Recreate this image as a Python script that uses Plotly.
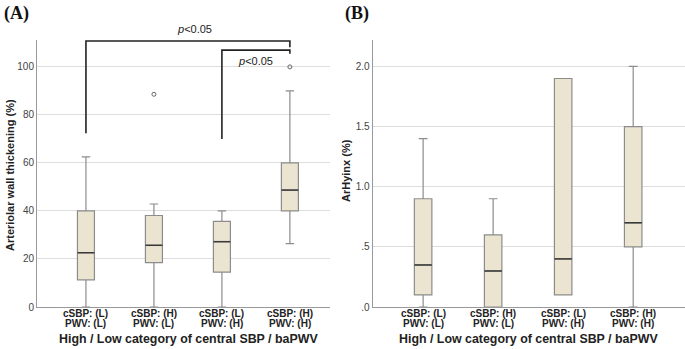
import plotly.graph_objects as go

categories = ["cSBP: (L)<br>PWV: (L)", "cSBP: (H)<br>PWV: (L)", "cSBP: (L)<br>PWV: (H)", "cSBP: (H)<br>PWV: (H)"]
xpos = [0, 1, 2, 3]

# Panel A: Arteriolar wall thickening (%)
a_low = [0, 0, 0, 26.4]
a_q1 = [11.3, 18.5, 14.5, 40]
a_med = [22.6, 25.7, 27.2, 48.7]
a_q3 = [40, 38.1, 35.7, 60]
a_high = [62.5, 42.9, 40, 90]
a_out_x = [1, 3]
a_out_y = [88.6, 100]

# Panel B: ArHyinx (%)
b_low = [0, 0, 0.1, 0]
b_q1 = [0.1, 0, 0.1, 0.5]
b_med = [0.35, 0.3, 0.4, 0.7]
b_q3 = [0.9, 0.6, 1.9, 1.5]
b_high = [1.4, 0.9, 1.9, 2.0]

a_ticks = [0, 20, 40, 60, 80, 100]
b_ticks = [0, 0.5, 1.0, 1.5, 2.0]
b_ticklabels = [".0", ".5", "1.0", "1.5", "2.0"]

FILL = "#ebe4d0"
LINE = "#8c8c8c"
MED = "#3a3a3a"
GRID = "#dddddd"
FONT = "Liberation Sans, Arial, sans-serif"
W, H = 685, 349

def px(v):
    return v / W

def py(v):
    return 1 - v / H

fig = go.Figure()

fig.add_trace(go.Box(x=xpos, q1=a_q1, median=a_med, q3=a_q3, lowerfence=a_low, upperfence=a_high,
                     fillcolor=FILL, line=dict(color=LINE, width=1.2), width=0.25, whiskerwidth=0.5,
                     boxpoints=False, xaxis="x", yaxis="y", showlegend=False, hoverinfo="skip"))
fig.add_trace(go.Scatter(x=a_out_x, y=a_out_y, mode="markers",
                         marker=dict(symbol="circle-open", size=4, color="#666666", line=dict(width=1)),
                         xaxis="x", yaxis="y", showlegend=False, hoverinfo="skip"))
fig.add_trace(go.Box(x=xpos, q1=b_q1, median=b_med, q3=b_q3, lowerfence=b_low, upperfence=b_high,
                     fillcolor=FILL, line=dict(color=LINE, width=1.2), width=0.25, whiskerwidth=0.5,
                     boxpoints=False, xaxis="x2", yaxis="y2", showlegend=False, hoverinfo="skip"))

shapes = []
hw = 0.125
for xi, m in zip(xpos, a_med):
    shapes.append(dict(type="line", xref="x", yref="y", x0=xi - hw, x1=xi + hw, y0=m, y1=m,
                       line=dict(color=MED, width=1.5)))
for xi, m in zip(xpos, b_med):
    shapes.append(dict(type="line", xref="x2", yref="y2", x0=xi - hw, x1=xi + hw, y0=m, y1=m,
                       line=dict(color=MED, width=1.5)))

# significance brackets
brackets = [
    (0, 3, 110.8, 72.4, 108.2),
    (2, 3, 107.0, 70.0, 105.5),
]
for x0, x1, top, yl, yr in brackets:
    shapes.append(dict(type="path", xref="x", yref="y",
                       path=f"M {x0},{yl} L {x0},{top} L {x1},{top} L {x1},{yr}",
                       line=dict(color="#222222", width=1.6)))

fig.update_layout(shapes=shapes)

serif = "Liberation Serif, Times New Roman, serif"
annotations = [
    dict(text="<i>p</i><0.05", x=1.6, y=py(29), xref="x", yref="paper", showarrow=False,
         xanchor="center", yanchor="middle", font=dict(family=FONT, size=11, color="#222")),
    dict(text="<i>p</i><0.05", x=2.5, y=py(61), xref="x", yref="paper", showarrow=False,
         xanchor="center", yanchor="middle", font=dict(family=FONT, size=11, color="#222")),
    dict(text="<b>(A)</b>", x=px(2), y=py(1), xref="paper", yref="paper", showarrow=False,
         xanchor="left", yanchor="top", font=dict(family=serif, size=18, color="#111")),
    dict(text="<b>(B)</b>", x=px(343), y=py(1), xref="paper", yref="paper", showarrow=False,
         xanchor="left", yanchor="top", font=dict(family=serif, size=18, color="#111")),
    dict(text="<b>Arteriolar wall thickening (%)</b>", x=px(10), y=py(175), xref="paper", yref="paper",
         xanchor="center", yanchor="middle",
         showarrow=False, textangle=-90, font=dict(family=FONT, size=11, color="#222")),
    dict(text="<b>ArHyinx (%)</b>", x=px(346), y=py(171), xref="paper", yref="paper",
         xanchor="center", yanchor="middle",
         showarrow=False, textangle=-90, font=dict(family=FONT, size=11, color="#222")),
    dict(text="<b>High / Low category of central SBP / baPWV</b>", x=px(188), y=py(339),
         xanchor="center", yanchor="middle",
         xref="paper", yref="paper", showarrow=False, font=dict(family=FONT, size=12.4, color="#222")),
    dict(text="<b>High / Low category of central SBP / baPWV</b>", x=px(528), y=py(339),
         xanchor="center", yanchor="middle",
         xref="paper", yref="paper", showarrow=False, font=dict(family=FONT, size=12.4, color="#222")),
]
# category labels, two tight lines each
for xr in ["x", "x2"]:
    for xi, cat in zip(xpos, categories):
        for li, line in enumerate(cat.split("<br>")):
            annotations.append(dict(text=f"<b>{line}</b>", x=xi, y=py(313.5 + 9.5 * li), xref=xr, yref="paper",
                                    showarrow=False, xanchor="center", yanchor="middle",
                                    font=dict(family=FONT, size=10, color="#222")))
fig.update_layout(annotations=annotations)

ydom = [1 - 307 / H, 1 - 40 / H]
common_x = dict(tickmode="array", tickvals=xpos, showticklabels=False, automargin=False,
                showgrid=False, zeroline=False, showline=True, linecolor="#999999", linewidth=1,
                ticks="")
fig.update_layout(
    width=W, height=H,
    margin=dict(l=0, r=0, t=0, b=0, autoexpand=False),
    paper_bgcolor="white", plot_bgcolor="white",
    xaxis=dict(domain=[37 / W, 330 / W], range=[-0.72, 3.59], anchor="y", **common_x),
    xaxis2=dict(domain=[372.7 / W, 1.0], range=[-0.72, 3.74], anchor="y2", **common_x),
    yaxis=dict(domain=ydom, range=[0, 111.2], tickvals=a_ticks, showgrid=True, gridcolor=GRID,
               zeroline=False, showline=True, linecolor="#999999", linewidth=1, ticks="", automargin=False,
               tickfont=dict(family=FONT, size=10, color="#444"), anchor="x"),
    yaxis2=dict(domain=ydom, range=[0, 2.22], tickvals=b_ticks, ticktext=b_ticklabels, showgrid=True,
                gridcolor=GRID, zeroline=False, showline=True, linecolor="#999999", linewidth=1, ticks="",
                automargin=False, tickfont=dict(family=FONT, size=10, color="#444"), anchor="x2"),
    font=dict(family=FONT),
)

fig.write_html("out.html", config={"displayModeBar": False},
               post_script="document.body.style.margin='0';document.body.style.overflow='hidden';")
